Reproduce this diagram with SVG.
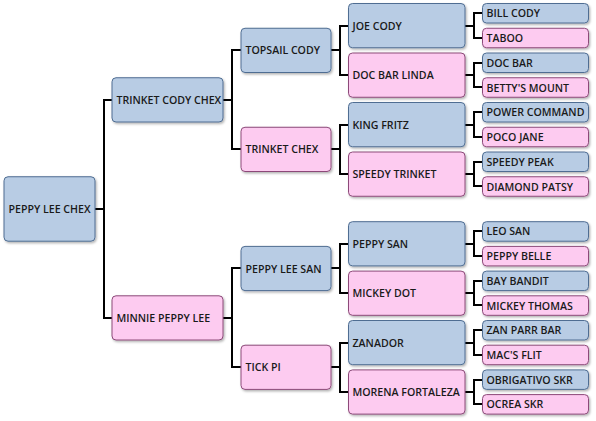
<svg xmlns="http://www.w3.org/2000/svg" width="596" height="421" viewBox="0 0 596 421">
<defs>
<filter id="sh" x="-10%" y="-20%" width="130%" height="150%">
<feDropShadow dx="1.2" dy="1.5" stdDeviation="0.9" flood-color="#000" flood-opacity="0.3"/>
</filter>
<style>
.m{fill:#b8cce4;stroke:#4f6d92;stroke-width:1}
.f{fill:#fdcbf0;stroke:#8c4a79;stroke-width:1}
rect{filter:url(#sh)}
text{font-family:"Open Sans","DejaVu Sans",sans-serif;font-size:10.6px;font-weight:600;fill:#1a1a1a;dominant-baseline:central}
.c{fill:none;stroke:#000;stroke-width:2;stroke-linejoin:miter}
</style>
</defs>
<rect width="596" height="421" fill="#fff" style="filter:none"/>
<g id="connectors" class="c">
<path d="M95 209H104M112 100H104V318H112"/>
<path d="M223 100H232M241 50H232V149H241"/>
<path d="M223 318H232M241 268H232V367H241"/>
<path d="M331 50H340M348.5 26H340V75H348.5"/>
<path d="M331 149H340M348.5 125H340V174H348.5"/>
<path d="M331 268H340M348.5 244H340V293H348.5"/>
<path d="M331 367H340M348.5 343H340V392H348.5"/>
<path d="M465 26H474M482.5 13H474V38H482.5"/>
<path d="M465 75H474M482.5 63H474V87H482.5"/>
<path d="M465 125H474M482.5 112H474V137H482.5"/>
<path d="M465 174H474M482.5 162H474V186H482.5"/>
<path d="M465 244H474M482.5 231H474V256H482.5"/>
<path d="M465 293H474M482.5 281H474V305H482.5"/>
<path d="M465 343H474M482.5 330H474V355H482.5"/>
<path d="M465 392H474M482.5 380H474V404H482.5"/>
</g>
<g id="n-peppy-lee-chex"><rect class="m" x="4" y="176.75" width="91" height="64.45" rx="4"/><text x="8.5" y="209">PEPPY LEE CHEX</text></g>
<g id="n-trinket-cody-chex"><rect class="m" x="112" y="77.75" width="111" height="44.25" rx="4"/><text x="116.5" y="99.9">TRINKET CODY CHEX</text></g>
<g id="n-minnie-peppy-lee"><rect class="f" x="112" y="295.8" width="111" height="44.2" rx="4"/><text x="116.5" y="317.9">MINNIE PEPPY LEE</text></g>
<g id="n-topsail-cody"><rect class="m" x="241" y="28.25" width="90" height="44.25" rx="4"/><text x="245.5" y="50.4">TOPSAIL CODY</text></g>
<g id="n-trinket-chex"><rect class="f" x="241" y="127.25" width="90" height="44.25" rx="4"/><text x="245.5" y="149.4">TRINKET CHEX</text></g>
<g id="n-peppy-lee-san"><rect class="m" x="241" y="246.4" width="90" height="44.2" rx="4"/><text x="245.5" y="268.5">PEPPY LEE SAN</text></g>
<g id="n-tick-pi"><rect class="f" x="241" y="345.2" width="90" height="44.2" rx="4"/><text x="245.5" y="367.3">TICK PI</text></g>
<g id="n-joe-cody"><rect class="m" x="348.5" y="3.5" width="116.5" height="44.25" rx="4"/><text x="352.5" y="25.6">JOE CODY</text></g>
<g id="n-doc-bar-linda"><rect class="f" x="348.5" y="53" width="116.5" height="44.25" rx="4"/><text x="352.5" y="75.1">DOC BAR LINDA</text></g>
<g id="n-king-fritz"><rect class="m" x="348.5" y="102.5" width="116.5" height="44.25" rx="4"/><text x="352.5" y="124.6">KING FRITZ</text></g>
<g id="n-speedy-trinket"><rect class="f" x="348.5" y="152" width="116.5" height="44.25" rx="4"/><text x="352.5" y="174.1">SPEEDY TRINKET</text></g>
<g id="n-peppy-san"><rect class="m" x="348.5" y="221.7" width="116.5" height="44.2" rx="4"/><text x="352.5" y="243.8">PEPPY SAN</text></g>
<g id="n-mickey-dot"><rect class="f" x="348.5" y="271.1" width="116.5" height="44.2" rx="4"/><text x="352.5" y="293.2">MICKEY DOT</text></g>
<g id="n-zanador"><rect class="m" x="348.5" y="320.5" width="116.5" height="44.2" rx="4"/><text x="352.5" y="342.6">ZANADOR</text></g>
<g id="n-morena-fortaleza"><rect class="f" x="348.5" y="369.9" width="116.5" height="44.2" rx="4"/><text x="352.5" y="392">MORENA FORTALEZA</text></g>
<g id="n-bill-cody"><rect class="m" x="482.5" y="3.5" width="106" height="19.5" rx="4"/><text x="486.5" y="13.25">BILL CODY</text></g>
<g id="n-taboo"><rect class="f" x="482.5" y="28.25" width="106" height="19.5" rx="4"/><text x="486.5" y="38">TABOO</text></g>
<g id="n-doc-bar"><rect class="m" x="482.5" y="53" width="106" height="19.5" rx="4"/><text x="486.5" y="62.75">DOC BAR</text></g>
<g id="n-bettys-mount"><rect class="f" x="482.5" y="77.75" width="106" height="19.5" rx="4"/><text x="486.5" y="87.5">BETTY'S MOUNT</text></g>
<g id="n-power-command"><rect class="m" x="482.5" y="102.5" width="106" height="19.5" rx="4"/><text x="486.5" y="112.25">POWER COMMAND</text></g>
<g id="n-poco-jane"><rect class="f" x="482.5" y="127.25" width="106" height="19.5" rx="4"/><text x="486.5" y="137">POCO JANE</text></g>
<g id="n-speedy-peak"><rect class="m" x="482.5" y="152" width="106" height="19.5" rx="4"/><text x="486.5" y="161.75">SPEEDY PEAK</text></g>
<g id="n-diamond-patsy"><rect class="f" x="482.5" y="176.75" width="106" height="19.5" rx="4"/><text x="486.5" y="186.5">DIAMOND PATSY</text></g>
<g id="n-leo-san"><rect class="m" x="482.5" y="221.7" width="106" height="19.5" rx="4"/><text x="486.5" y="231.45">LEO SAN</text></g>
<g id="n-peppy-belle"><rect class="f" x="482.5" y="246.4" width="106" height="19.5" rx="4"/><text x="486.5" y="256.15">PEPPY BELLE</text></g>
<g id="n-bay-bandit"><rect class="m" x="482.5" y="271.1" width="106" height="19.5" rx="4"/><text x="486.5" y="280.85">BAY BANDIT</text></g>
<g id="n-mickey-thomas"><rect class="f" x="482.5" y="295.8" width="106" height="19.5" rx="4"/><text x="486.5" y="305.55">MICKEY THOMAS</text></g>
<g id="n-zan-parr-bar"><rect class="m" x="482.5" y="320.5" width="106" height="19.5" rx="4"/><text x="486.5" y="330.25">ZAN PARR BAR</text></g>
<g id="n-macs-flit"><rect class="f" x="482.5" y="345.2" width="106" height="19.5" rx="4"/><text x="486.5" y="354.95">MAC'S FLIT</text></g>
<g id="n-obrigativo-skr"><rect class="m" x="482.5" y="369.9" width="106" height="19.5" rx="4"/><text x="486.5" y="379.65">OBRIGATIVO SKR</text></g>
<g id="n-ocrea-skr"><rect class="f" x="482.5" y="394.6" width="106" height="19.5" rx="4"/><text x="486.5" y="404.35">OCREA SKR</text></g>
</svg>
